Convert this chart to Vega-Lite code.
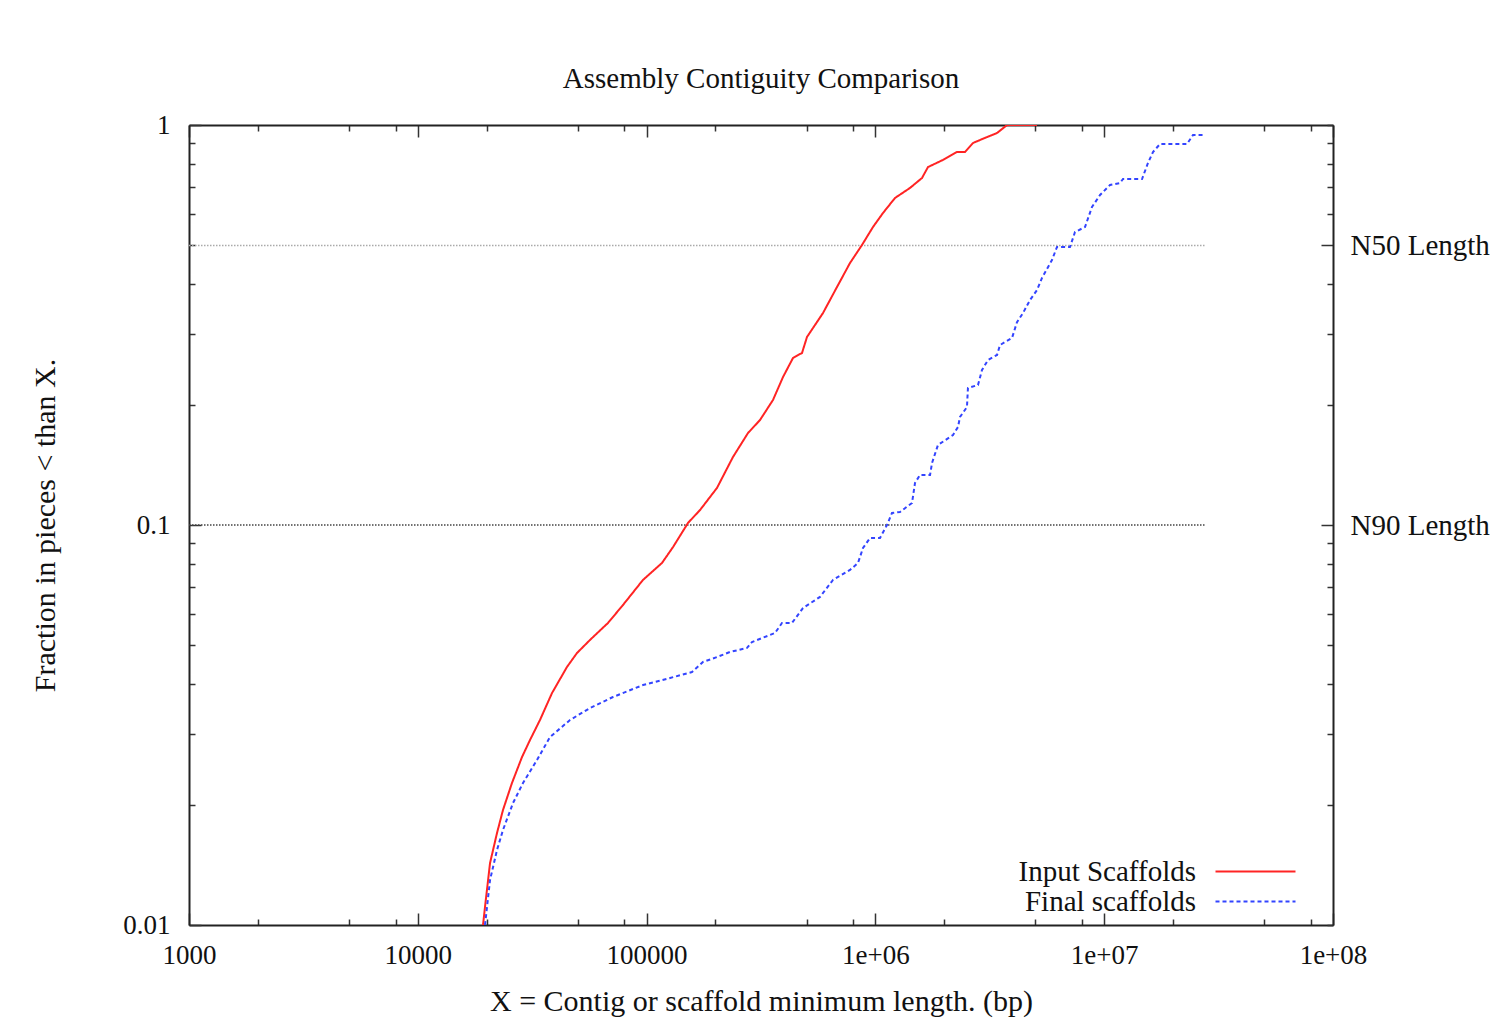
{
  "$schema": "https://vega.github.io/schema/vega-lite/v6.json",
  "width": 1144,
  "height": 800,
  "autosize": "none",
  "padding": {"left": 189, "top": 125, "right": 178, "bottom": 106},
  "background": "white",
  "title": {"text": "Assembly Contiguity Comparison", "font": "Liberation Serif", "fontSize": 29, "fontWeight": "normal", "color": "#111111", "offset": -6, "baseline": "alphabetic", "anchor": "middle"},
  "config": {
    "view": {"stroke": null},
    "axis": {
      "grid": false,
      "domainColor": "#222222",
      "domainWidth": 2,
      "tickColor": "#333333",
      "tickWidth": 1.5,
      "labelFont": "Liberation Serif",
      "labelFontSize": 27,
      "labelColor": "#111111",
      "titleFont": "Liberation Serif",
      "titleFontSize": 30,
      "titleFontWeight": "normal",
      "titleColor": "#111111",
      "labelOverlap": false,
      "labelFlush": false,
      "labelBound": false
    }
  },
  "datasets": {
    "curves": [
      {"series": "Input Scaffolds", "length": 19275, "fraction": 0.01},
      {"series": "Input Scaffolds", "length": 19665, "fraction": 0.01109},
      {"series": "Input Scaffolds", "length": 20690, "fraction": 0.01429},
      {"series": "Input Scaffolds", "length": 22190, "fraction": 0.01698},
      {"series": "Input Scaffolds", "length": 23570, "fraction": 0.01939},
      {"series": "Input Scaffolds", "length": 25800, "fraction": 0.02265},
      {"series": "Input Scaffolds", "length": 28540, "fraction": 0.0263},
      {"series": "Input Scaffolds", "length": 30930, "fraction": 0.029},
      {"series": "Input Scaffolds", "length": 34200, "fraction": 0.03255},
      {"series": "Input Scaffolds", "length": 38590, "fraction": 0.038},
      {"series": "Input Scaffolds", "length": 44870, "fraction": 0.04416},
      {"series": "Input Scaffolds", "length": 49630, "fraction": 0.04786},
      {"series": "Input Scaffolds", "length": 56570, "fraction": 0.0516},
      {"series": "Input Scaffolds", "length": 67810, "fraction": 0.0569},
      {"series": "Input Scaffolds", "length": 78850, "fraction": 0.0631},
      {"series": "Input Scaffolds", "length": 96450, "fraction": 0.0729},
      {"series": "Input Scaffolds", "length": 116800, "fraction": 0.0804},
      {"series": "Input Scaffolds", "length": 130500, "fraction": 0.0881},
      {"series": "Input Scaffolds", "length": 151700, "fraction": 0.1012},
      {"series": "Input Scaffolds", "length": 171200, "fraction": 0.109},
      {"series": "Input Scaffolds", "length": 203100, "fraction": 0.1238},
      {"series": "Input Scaffolds", "length": 238500, "fraction": 0.1479},
      {"series": "Input Scaffolds", "length": 277400, "fraction": 0.1698},
      {"series": "Input Scaffolds", "length": 313100, "fraction": 0.183},
      {"series": "Input Scaffolds", "length": 356800, "fraction": 0.2054},
      {"series": "Input Scaffolds", "length": 394700, "fraction": 0.2344},
      {"series": "Input Scaffolds", "length": 436400, "fraction": 0.2616},
      {"series": "Input Scaffolds", "length": 477800, "fraction": 0.2692},
      {"series": "Input Scaffolds", "length": 502300, "fraction": 0.2951},
      {"series": "Input Scaffolds", "length": 590200, "fraction": 0.3388},
      {"series": "Input Scaffolds", "length": 679500, "fraction": 0.3936},
      {"series": "Input Scaffolds", "length": 774500, "fraction": 0.4519},
      {"series": "Input Scaffolds", "length": 873700, "fraction": 0.5012},
      {"series": "Input Scaffolds", "length": 976100, "fraction": 0.5559},
      {"series": "Input Scaffolds", "length": 1079500, "fraction": 0.6026},
      {"series": "Input Scaffolds", "length": 1218000, "fraction": 0.657},
      {"series": "Input Scaffolds", "length": 1416500, "fraction": 0.696},
      {"series": "Input Scaffolds", "length": 1598000, "fraction": 0.737},
      {"series": "Input Scaffolds", "length": 1698000, "fraction": 0.785},
      {"series": "Input Scaffolds", "length": 1975000, "fraction": 0.818},
      {"series": "Input Scaffolds", "length": 2273000, "fraction": 0.856},
      {"series": "Input Scaffolds", "length": 2464000, "fraction": 0.856},
      {"series": "Input Scaffolds", "length": 2671000, "fraction": 0.9016},
      {"series": "Input Scaffolds", "length": 3074000, "fraction": 0.933},
      {"series": "Input Scaffolds", "length": 3401000, "fraction": 0.955},
      {"series": "Input Scaffolds", "length": 3761000, "fraction": 1},
      {"series": "Input Scaffolds", "length": 5085000, "fraction": 1},
      {"series": "Final scaffolds", "length": 19665, "fraction": 0.01},
      {"series": "Final scaffolds", "length": 20690, "fraction": 0.01296},
      {"series": "Final scaffolds", "length": 22190, "fraction": 0.0154},
      {"series": "Final scaffolds", "length": 23570, "fraction": 0.01728},
      {"series": "Final scaffolds", "length": 26070, "fraction": 0.02018},
      {"series": "Final scaffolds", "length": 28830, "fraction": 0.02265},
      {"series": "Final scaffolds", "length": 33190, "fraction": 0.02585},
      {"series": "Final scaffolds", "length": 37820, "fraction": 0.0295},
      {"series": "Final scaffolds", "length": 46260, "fraction": 0.03255},
      {"series": "Final scaffolds", "length": 56570, "fraction": 0.03487},
      {"series": "Final scaffolds", "length": 71300, "fraction": 0.03715},
      {"series": "Final scaffolds", "length": 96450, "fraction": 0.0398},
      {"series": "Final scaffolds", "length": 126600, "fraction": 0.04145},
      {"series": "Final scaffolds", "length": 157900, "fraction": 0.0429},
      {"series": "Final scaffolds", "length": 176400, "fraction": 0.04545},
      {"series": "Final scaffolds", "length": 203100, "fraction": 0.04677},
      {"series": "Final scaffolds", "length": 231500, "fraction": 0.04815},
      {"series": "Final scaffolds", "length": 274700, "fraction": 0.04927},
      {"series": "Final scaffolds", "length": 288900, "fraction": 0.051},
      {"series": "Final scaffolds", "length": 364000, "fraction": 0.0537},
      {"series": "Final scaffolds", "length": 390700, "fraction": 0.0569},
      {"series": "Final scaffolds", "length": 432000, "fraction": 0.0569},
      {"series": "Final scaffolds", "length": 482600, "fraction": 0.062},
      {"series": "Final scaffolds", "length": 572700, "fraction": 0.0661},
      {"series": "Final scaffolds", "length": 652700, "fraction": 0.0729},
      {"series": "Final scaffolds", "length": 774500, "fraction": 0.0772},
      {"series": "Final scaffolds", "length": 839500, "fraction": 0.0804},
      {"series": "Final scaffolds", "length": 882800, "fraction": 0.0876},
      {"series": "Final scaffolds", "length": 947100, "fraction": 0.0928},
      {"series": "Final scaffolds", "length": 1047400, "fraction": 0.0928},
      {"series": "Final scaffolds", "length": 1123600, "fraction": 0.1},
      {"series": "Final scaffolds", "length": 1181600, "fraction": 0.1072},
      {"series": "Final scaffolds", "length": 1280700, "fraction": 0.1078},
      {"series": "Final scaffolds", "length": 1445400, "fraction": 0.1135},
      {"series": "Final scaffolds", "length": 1490000, "fraction": 0.1274},
      {"series": "Final scaffolds", "length": 1566000, "fraction": 0.1334},
      {"series": "Final scaffolds", "length": 1733000, "fraction": 0.1334},
      {"series": "Final scaffolds", "length": 1768000, "fraction": 0.1429},
      {"series": "Final scaffolds", "length": 1877000, "fraction": 0.1585},
      {"series": "Final scaffolds", "length": 2184000, "fraction": 0.1679},
      {"series": "Final scaffolds", "length": 2296000, "fraction": 0.1758},
      {"series": "Final scaffolds", "length": 2343000, "fraction": 0.1862},
      {"series": "Final scaffolds", "length": 2513000, "fraction": 0.1972},
      {"series": "Final scaffolds", "length": 2538000, "fraction": 0.2201},
      {"series": "Final scaffolds", "length": 2808000, "fraction": 0.2239},
      {"series": "Final scaffolds", "length": 2924000, "fraction": 0.2441},
      {"series": "Final scaffolds", "length": 3105000, "fraction": 0.2585},
      {"series": "Final scaffolds", "length": 3401000, "fraction": 0.2661},
      {"series": "Final scaffolds", "length": 3505000, "fraction": 0.2818},
      {"series": "Final scaffolds", "length": 3954000, "fraction": 0.2934},
      {"series": "Final scaffolds", "length": 4158000, "fraction": 0.3215},
      {"series": "Final scaffolds", "length": 4417000, "fraction": 0.3388},
      {"series": "Final scaffolds", "length": 4740000, "fraction": 0.3652},
      {"series": "Final scaffolds", "length": 5085000, "fraction": 0.3868},
      {"series": "Final scaffolds", "length": 5347000, "fraction": 0.4145},
      {"series": "Final scaffolds", "length": 5912000, "fraction": 0.4597},
      {"series": "Final scaffolds", "length": 6219000, "fraction": 0.4955},
      {"series": "Final scaffolds", "length": 7088000, "fraction": 0.4955},
      {"series": "Final scaffolds", "length": 7454000, "fraction": 0.54},
      {"series": "Final scaffolds", "length": 8244000, "fraction": 0.5559},
      {"series": "Final scaffolds", "length": 8845000, "fraction": 0.6237},
      {"series": "Final scaffolds", "length": 9588000, "fraction": 0.6683},
      {"series": "Final scaffolds", "length": 10601000, "fraction": 0.7079},
      {"series": "Final scaffolds", "length": 11722000, "fraction": 0.7161},
      {"series": "Final scaffolds", "length": 12085000, "fraction": 0.7328},
      {"series": "Final scaffolds", "length": 14632000, "fraction": 0.7328},
      {"series": "Final scaffolds", "length": 15537000, "fraction": 0.8035},
      {"series": "Final scaffolds", "length": 16340000, "fraction": 0.856},
      {"series": "Final scaffolds", "length": 17536000, "fraction": 0.8964},
      {"series": "Final scaffolds", "length": 23014000, "fraction": 0.8964},
      {"series": "Final scaffolds", "length": 24443000, "fraction": 0.9441},
      {"series": "Final scaffolds", "length": 27584000, "fraction": 0.9441}
    ],
    "refs": [
      {"level": "N50", "fraction": 0.5, "from": 1000, "to": 27584000},
      {"level": "N90", "fraction": 0.1, "from": 1000, "to": 27584000}
    ]
  },
  "resolve": {"axis": {"x": "independent", "y": "independent"}},
  "layer": [
    {
      "data": {"name": "refs"},
      "transform": [{"filter": "datum.level == 'N50'"}],
      "mark": {"type": "rule", "color": "#aaaaaa", "strokeWidth": 1.5, "strokeDash": [1.5, 1.5]},
      "encoding": {
        "x": {"field": "from", "type": "quantitative", "scale": {"type": "log", "domain": [1000, 100000000], "nice": false},
          "axis": {"orient": "top", "labels": false, "title": null, "domainWidth": 2,
            "values": [1000, 2000, 5000, 8000, 10000, 20000, 50000, 80000, 100000, 200000, 500000, 800000, 1000000, 2000000, 5000000, 8000000, 10000000, 20000000, 50000000, 80000000, 100000000],
            "tickSize": {"condition": {"test": "datum.value == 1000 || datum.value == 10000 || datum.value == 100000 || datum.value == 1000000 || datum.value == 10000000 || datum.value == 100000000", "value": -12}, "value": -6}}},
        "x2": {"field": "to"},
        "y": {"field": "fraction", "type": "quantitative", "scale": {"type": "log", "domain": [0.01, 1], "nice": false},
          "axis": {"orient": "right", "title": null, "labelPadding": 29, "labelAlign": "left", "labelFontSize": 29,
            "values": [0.01, 0.02, 0.03, 0.04, 0.05, 0.06, 0.07, 0.08, 0.09, 0.1, 0.2, 0.3, 0.4, 0.5, 0.6, 0.7, 0.8, 0.9, 1],
            "labelExpr": "datum.value == 0.5 ? 'N50 Length' : datum.value == 0.1 ? 'N90 Length' : ''",
            "tickSize": {"condition": {"test": "datum.value == 0.5 || datum.value == 0.1", "value": -12}, "value": -6}}}
      }
    },
    {
      "data": {"name": "refs"},
      "transform": [{"filter": "datum.level == 'N90'"}],
      "mark": {"type": "rule", "color": "#444444", "strokeWidth": 1.5, "strokeDash": [1.5, 1.5]},
      "encoding": {
        "x": {"field": "from", "type": "quantitative", "axis": null},
        "x2": {"field": "to"},
        "y": {"field": "fraction", "type": "quantitative", "axis": null}
      }
    },
    {
      "data": {"name": "curves"},
      "mark": {"type": "line", "strokeWidth": 2, "clip": true},
      "encoding": {
        "x": {"field": "length", "type": "quantitative",
          "axis": {"orient": "bottom", "title": "X = Contig or scaffold minimum length. (bp)", "titleX": 572, "titleY": 76, "titleBaseline": "middle", "titleAlign": "center", "labelPadding": 29,
            "values": [1000, 2000, 5000, 8000, 10000, 20000, 50000, 80000, 100000, 200000, 500000, 800000, 1000000, 2000000, 5000000, 8000000, 10000000, 20000000, 50000000, 80000000, 100000000],
            "labelExpr": "datum.value == 1000 ? '1000' : datum.value == 10000 ? '10000' : datum.value == 100000 ? '100000' : datum.value == 1000000 ? '1e+06' : datum.value == 10000000 ? '1e+07' : datum.value == 100000000 ? '1e+08' : ''",
            "tickSize": {"condition": {"test": "datum.value == 1000 || datum.value == 10000 || datum.value == 100000 || datum.value == 1000000 || datum.value == 10000000 || datum.value == 100000000", "value": -12}, "value": -6}}},
        "y": {"field": "fraction", "type": "quantitative",
          "axis": {"orient": "left", "title": "Fraction in pieces < than X.", "titleX": -144, "titleY": 400, "titleAngle": -90, "titleBaseline": "middle", "titleAlign": "center", "labelPadding": 31,
            "values": [0.01, 0.02, 0.03, 0.04, 0.05, 0.06, 0.07, 0.08, 0.09, 0.1, 0.2, 0.3, 0.4, 0.5, 0.6, 0.7, 0.8, 0.9, 1],
            "labelExpr": "datum.value == 1 ? '1' : datum.value == 0.1 ? '0.1' : datum.value == 0.01 ? '0.01' : ''",
            "tickSize": {"condition": {"test": "datum.value == 1 || datum.value == 0.1 || datum.value == 0.01", "value": -12}, "value": -6}}},
        "color": {"field": "series", "type": "nominal",
          "scale": {"domain": ["Input Scaffolds", "Final scaffolds"], "range": ["#ff2424", "#3344ff"]},
          "legend": {"orient": "none", "legendX": 1052, "legendY": 732, "title": null, "labelAlign": "right", "labelOffset": -74, "symbolType": "M-4,0H4", "symbolSize": 400, "symbolStrokeWidth": 2, "labelFont": "Liberation Serif", "labelFontSize": 29, "labelColor": "#111111", "rowPadding": 0, "padding": 0, "labelLimit": 0}},
        "strokeDash": {"field": "series", "type": "nominal",
          "scale": {"domain": ["Input Scaffolds", "Final scaffolds"], "range": [[1, 0], [4, 3]]},
          "legend": {"orient": "none", "legendX": 1052, "legendY": 732, "title": null, "labelAlign": "right", "labelOffset": -74, "symbolType": "M-4,0H4", "symbolSize": 400, "symbolStrokeWidth": 2, "labelFont": "Liberation Serif", "labelFontSize": 29, "labelColor": "#111111", "rowPadding": 0, "padding": 0, "labelLimit": 0}}
      }
    }
  ]
}
